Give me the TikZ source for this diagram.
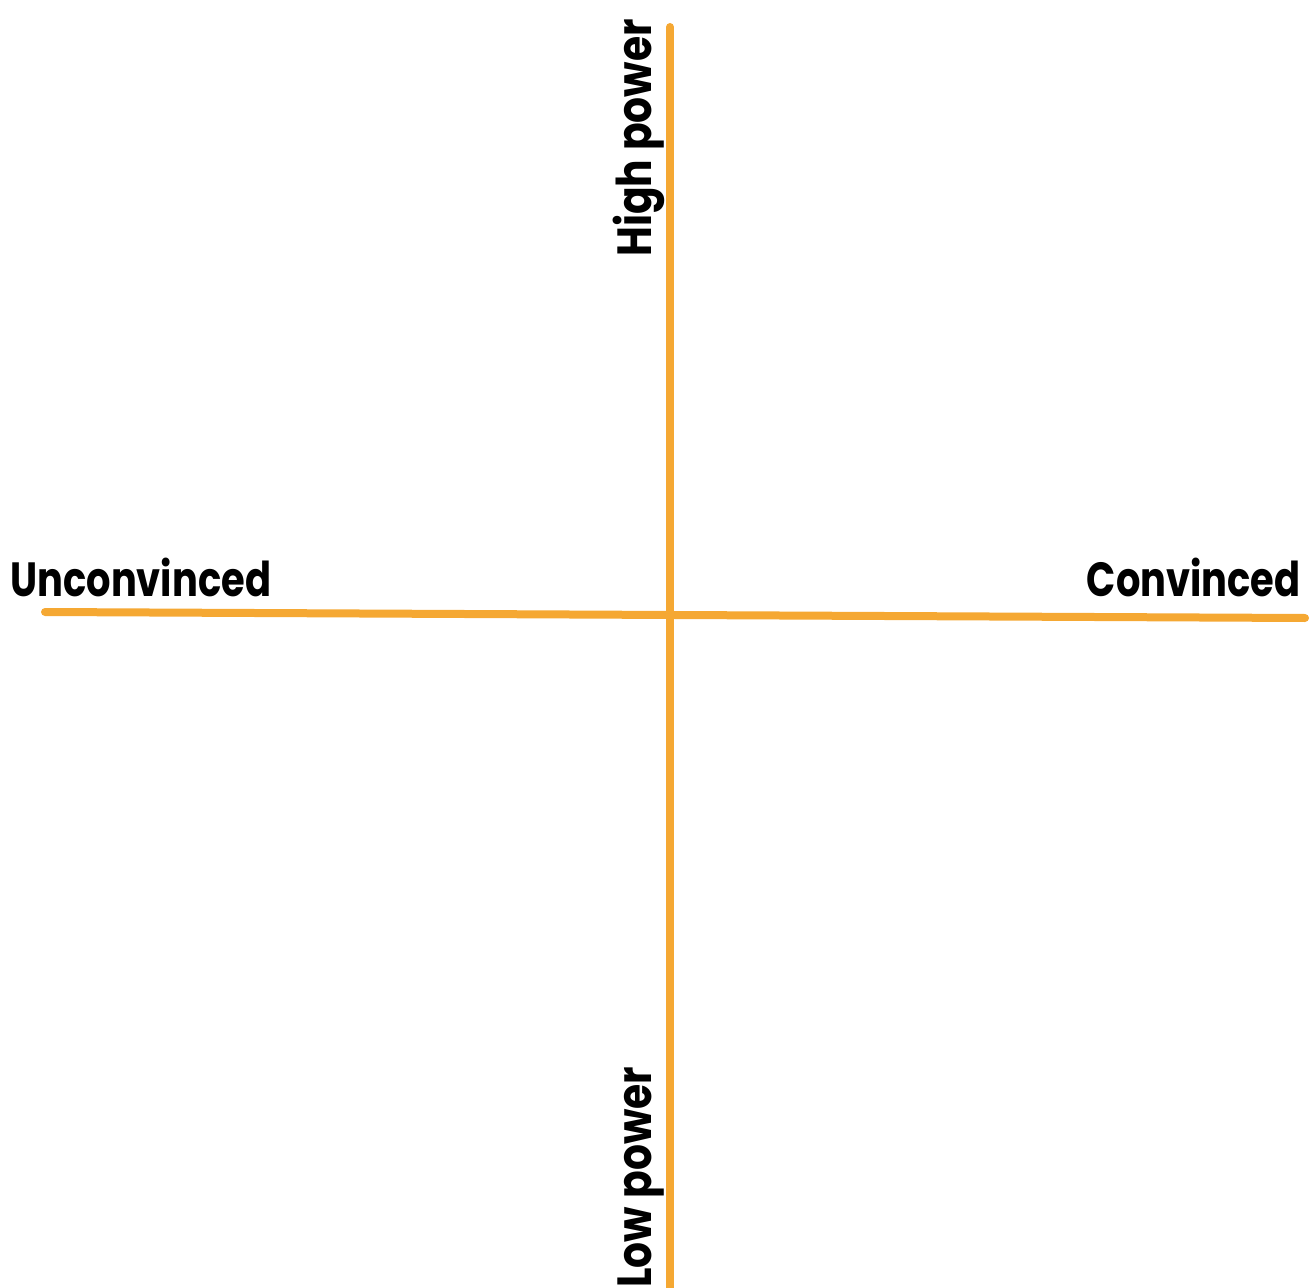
\documentclass[tikz,border=0pt]{standalone}
\usepackage{fontspec}
\setmainfont{Poppins}[BoldFont={* Bold}]
\definecolor{axis}{HTML}{F5A833}
\begin{document}
\begin{tikzpicture}[x=0.5pt,y=-0.5pt,
  axisline/.style={draw=axis,line width=4pt,line cap=round},
  lbl/.style={inner sep=0pt,font=\fontsize{24}{26}\selectfont\bfseries,text=black}]
\useasboundingbox (0,0) rectangle (1310,1288);
\coordinate (vt) at (670,27);
\coordinate (vb) at (670,1300);
\coordinate (hl) at (45,612);
\coordinate (hr) at (1305,618);
\draw[axisline] (vt) -- (vb);
\draw[axisline] (hl) -- (hr);
\node[lbl,anchor=base west] (unc) at (10,596) {\scalebox{0.8}[1]{Unconvinced}};
\node[lbl,anchor=base east] (con) at (1301,596) {\scalebox{0.8}[1]{Convinced}};
\node[lbl,anchor=base west,rotate=90] (hp) at (651,257) {\scalebox{0.85}[1]{High power}};
\node[lbl,anchor=base west,rotate=90] (lp) at (651,1288) {\scalebox{0.85}[1]{Low power}};
\end{tikzpicture}
\end{document}
